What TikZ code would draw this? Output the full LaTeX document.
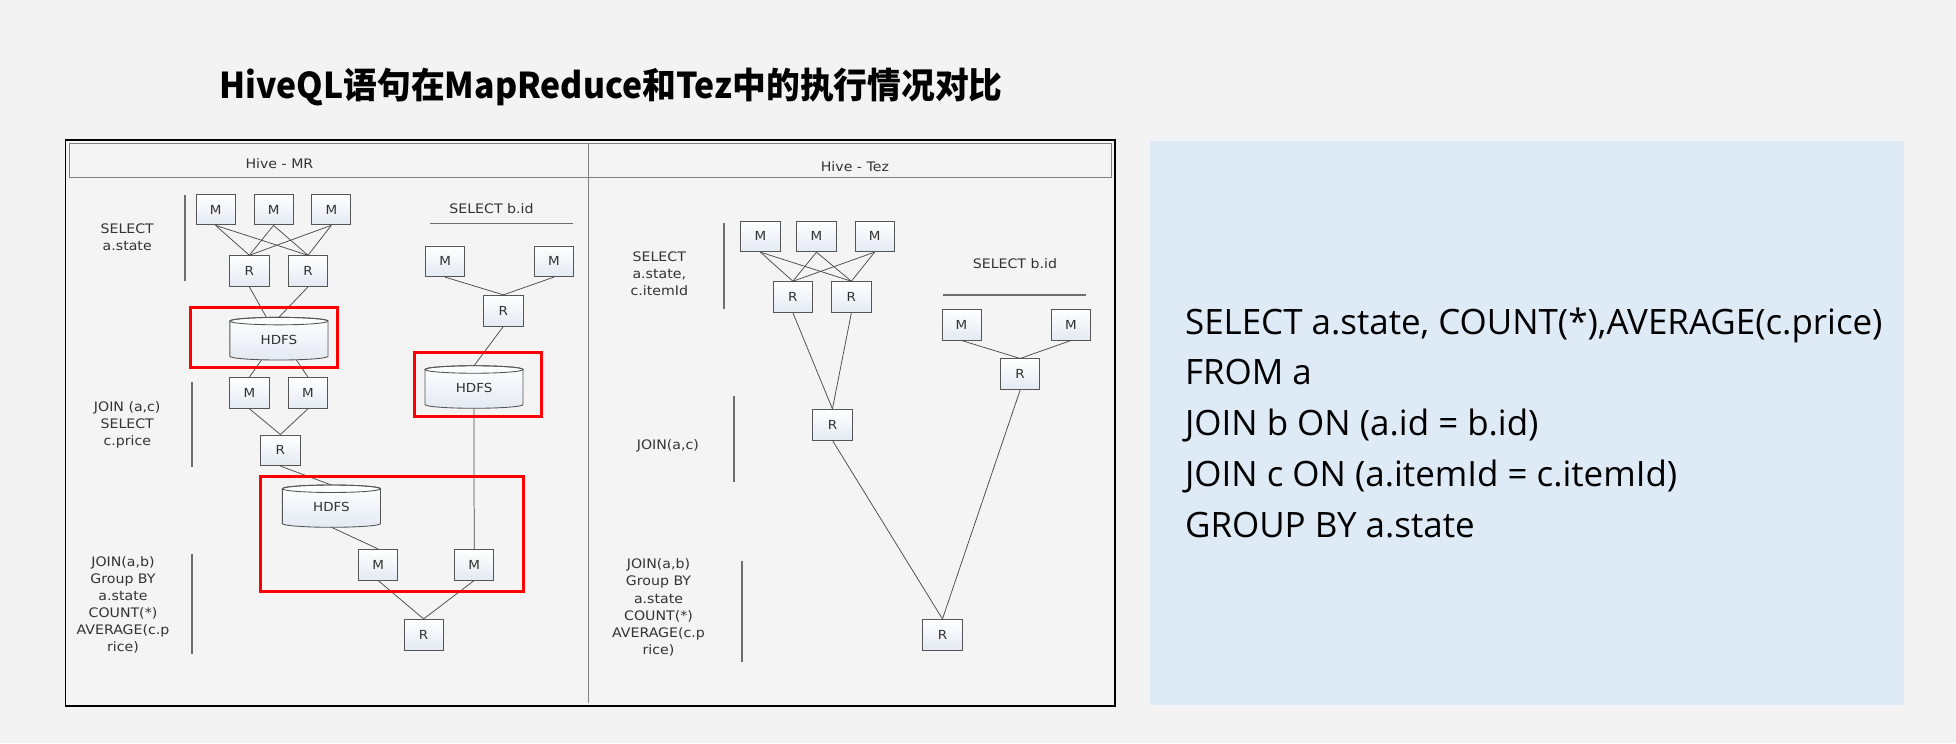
\documentclass[tikz,border=0pt]{standalone}
\usepackage{fontspec}
\setmainfont{DejaVu Sans}
\newfontfamily\dfont{DejaVu Sans}[FakeStretch=1.08]
\newfontfamily\codefont{Open Sans}
\newfontfamily\titlefont{Noto Sans CJK SC}[FakeStretch=0.95]
\usetikzlibrary{calc}
\definecolor{bg}{HTML}{F3F3F3}
\definecolor{diagbg}{HTML}{F4F4F4}
\definecolor{panel}{HTML}{DEEBF7}
\definecolor{boxline}{HTML}{555555}
\definecolor{boxbot}{HTML}{E4EAF3}
\definecolor{lncol}{HTML}{4A4A4A}
\definecolor{barcol}{HTML}{6E6E6E}
\definecolor{txt}{HTML}{333333}
\definecolor{framecol}{HTML}{808080}
\definecolor{redcol}{HTML}{FF0000}
\tikzset{
  box/.style={draw=boxline, line width=0.7pt, top color=white, bottom color=boxbot,
    minimum width=31.4pt, minimum height=24.6pt, inner sep=0pt,
    font=\dfont\fontsize{10}{11}\selectfont, text=txt},
  lab/.style={font=\dfont\fontsize{10.5}{13.7}\selectfont, text=txt, align=center, inner sep=0pt},
  conn/.style={draw=lncol, line width=0.6pt},
  bar/.style={draw=barcol, line width=1.1pt},
  redbox/.style={draw=redcol, line width=2.4pt},
  cylbody/.style={draw=boxline, line width=0.7pt, top color=white, bottom color=boxbot},
  codeline/.style={anchor=base west, inner sep=0pt, font=\codefont\fontsize{28}{40}\selectfont, text=black}
}
\newcommand\hdfs[4]{%
  \path[cylbody] ({#2-39.3},{#3+3}) -- ({#2-39.3},{#4-3})
     arc[start angle=180,end angle=360,x radius=39.3pt,y radius=3pt]
     -- ({#2+39.3},{#3+3})
     arc[start angle=0,end angle=180,x radius=39.3pt,y radius=3pt] -- cycle;
  \draw[draw=boxline, line width=0.7pt] ({#2},{#3+3}) ellipse [x radius=39.3pt, y radius=3pt];
  \node[lab, font=\dfont\fontsize{10}{11}\selectfont] (#1) at ({#2},{(#3+#4)/2+1}) {HDFS};
  \coordinate (#1t) at ({#2},{#3});
  \coordinate (#1b) at ({#2},{#4});
}
\begin{document}
\begin{tikzpicture}[x=1pt,y=-1pt]
\fill[bg] (0,0) rectangle (1568,596);
\useasboundingbox (0,0) rectangle (1568,596);

% title
\node[anchor=base, inner sep=0pt, font=\titlefont\bfseries\fontsize{28.5}{32}\selectfont] (title) at (489.9,79) {HiveQL语句在MapReduce和Tez中的执行情况对比};

% right panel
\fill[panel] (921.9,113.1) rectangle (1526.2,565.4);
\node[codeline] (c1) at (949.8,268.5) {SELECT a.state, COUNT(*),AVERAGE(c.price)};
\node[codeline] (c2) at (949.8,308.5) {FROM a};
\node[codeline] (c3) at (949.8,349.5) {JOIN b ON (a.id = b.id)};
\node[codeline] (c4) at (949.8,390) {JOIN c ON (a.itemId = c.itemId)};
\node[codeline] (c5) at (949.8,431) {GROUP BY a.state};

% diagram frame
\fill[diagbg] (52.5,112.5) rectangle (893.5,566);
\draw[framecol, line width=0.8pt] (55.5,114.8) rectangle (890.8,142);
\draw[framecol, line width=0.8pt] (472,114.8) -- (472,563.5);
\draw[black, line width=1.5pt] (52.5,112.5) rectangle (893.5,566);
\node[lab] (hmr) at (224,131) {Hive - MR};
\node[lab] (htez) at (685.3,133.6) {Hive - Tez};

% ---------------- Hive - MR ----------------
\node[box] (ma1) at (172.8,168) {M};
\node[box] (ma2) at (219.3,168) {M};
\node[box] (ma3) at (265.6,168) {M};
\node[box] (ra1) at (199.9,217.3) {R};
\node[box] (ra2) at (246.9,217.3) {R};
\foreach \m in {ma1,ma2,ma3}{\foreach \r in {ra1,ra2}{\draw[conn] (\m.south) -- (\r.north);}}
\hdfs{h1}{223.6}{254.4}{288.6}
\draw[conn] (ra1.south) -- ($(h1t)+(-10,0)$);
\draw[conn] (ra2.south) -- (h1t);
\node[box] (mc1) at (199.9,315) {M};
\node[box] (mc2) at (246.9,315) {M};
\draw[conn] ($(h1b)+(-14,0)$) -- (mc1.north);
\draw[conn] ($(h1b)+(14,0)$) -- (mc2.north);
\node[box] (rc) at (224.8,361) {R};
\draw[conn] (mc1.south) -- (rc.north);
\draw[conn] (mc2.south) -- (rc.north);
\hdfs{h3}{265.7}{388.8}{422.7}
\draw[conn] (rc.south) -- (h3t);
\node[box] (mj1) at (303.1,452.7) {M};
\node[box] (mj2) at (380.1,452.7) {M};
\draw[conn] (h3b) -- (mj1.north);
\node[box] (rj) at (339.6,508.8) {R};
\draw[conn] (mj1.south) -- (rj.north);
\draw[conn] (mj2.south) -- (rj.north);

\node[lab] (sbid) at (394,167) {SELECT b.id};
\draw[bar] (344.9,179) -- (459.4,179);
\node[box] (mb1) at (356.8,209.5) {M};
\node[box] (mb2) at (444.1,209.5) {M};
\node[box] (rb) at (403.5,249) {R};
\draw[conn] (mb1.south) -- (rb.north);
\draw[conn] (mb2.south) -- (rb.north);
\hdfs{h2}{380}{293.2}{327.3}
\draw[conn] (rb.south) -- (h2t);
\draw[conn] (h2b) -- (mj2.north);

\draw[redbox] (152.5,246.6) rectangle (270.3,294.5);
\draw[redbox] (331.9,282.5) rectangle (433.7,334);
\draw[redbox] (208.8,382.1) rectangle (419.4,473.8);

\draw[bar] (148.3,156.3) -- (148.3,225);
\draw[bar] (153.8,306) -- (153.8,374.6);
\draw[bar] (153.8,444.1) -- (153.8,524.5);
\node[lab] (l1) at (102,190.2) {SELECT\\a.state};
\node[lab] (l2) at (102,340.5) {JOIN (a,c)\\SELECT\\c.price};
\node[lab] (l3) at (98.6,485) {JOIN(a,b)\\Group BY\\a.state\\COUNT(*)\\AVERAGE(c.p\\rice)};

% ---------------- Hive - Tez ----------------
\node[box] (ta1) at (609.6,189.5) {M};
\node[box] (ta2) at (654.5,189.5) {M};
\node[box] (ta3) at (701.1,189.5) {M};
\node[box] (tr1) at (635.6,238.1) {R};
\node[box] (tr2) at (682.5,238.1) {R};
\foreach \m in {ta1,ta2,ta3}{\foreach \r in {tr1,tr2}{\draw[conn] (\m.south) -- (\r.north);}}
\node[box] (trj) at (667.3,340.4) {R};
\draw[conn] (tr1.south) -- (trj.north);
\draw[conn] (tr2.south) -- (trj.north);
\node[lab] (tsb) at (813.6,211.6) {SELECT b.id};
\draw[bar] (756.2,236.5) -- (870.8,236.5);
\node[box] (tb1) at (770.8,260.3) {M};
\node[box] (tb2) at (858.5,260.3) {M};
\node[box] (trb) at (817.8,300) {R};
\draw[conn] (tb1.south) -- (trb.north);
\draw[conn] (tb2.south) -- (trb.north);
\node[box] (tfin) at (755.5,508.8) {R};
\draw[conn] (trj.south) -- (tfin.north);
\draw[conn] (trb.south) -- (tfin.north);

\draw[bar] (580.3,179) -- (580.3,248);
\draw[bar] (588.3,317.2) -- (588.3,386.1);
\draw[bar] (594.7,449.5) -- (594.7,530.4);
\node[lab] (t1) at (528.5,219.5) {SELECT\\a.state,\\c.itemId};
\node[lab] (t2) at (535.4,357.3) {JOIN(a,c)};
\node[lab] (t3) at (527.9,487) {JOIN(a,b)\\Group BY\\a.state\\COUNT(*)\\AVERAGE(c.p\\rice)};
\end{tikzpicture}
\end{document}
